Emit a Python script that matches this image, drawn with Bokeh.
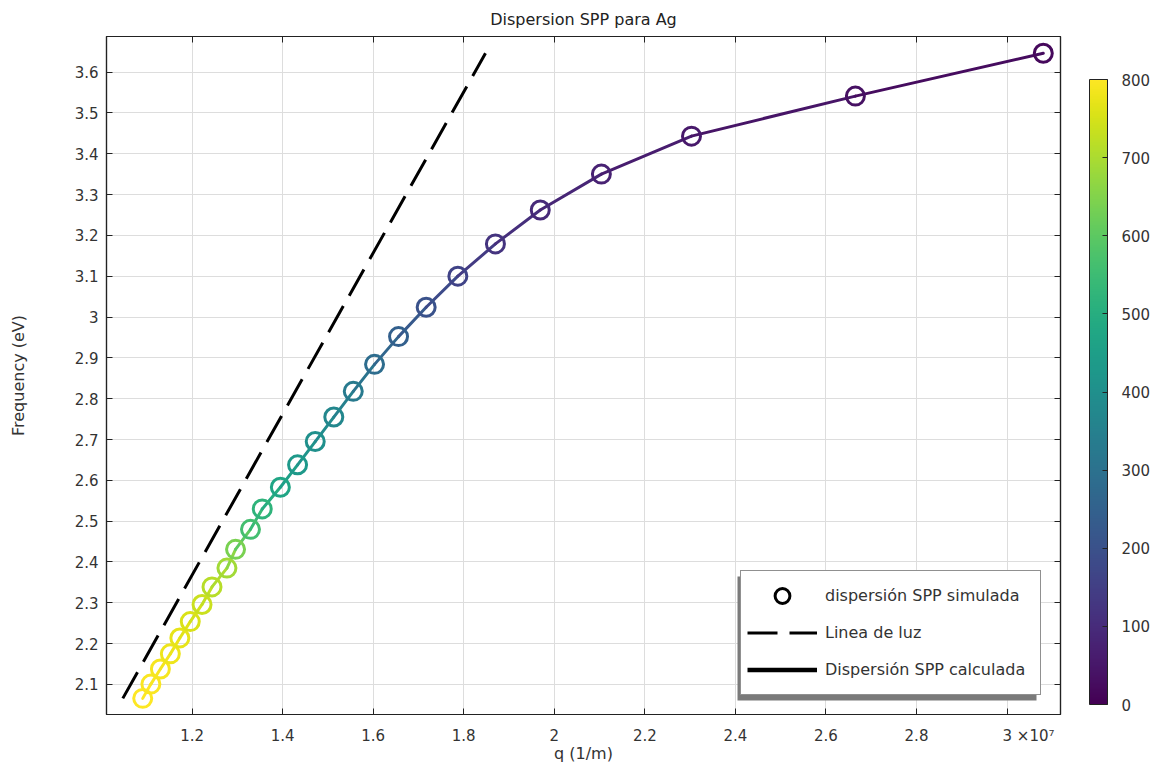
import math
from bokeh.plotting import figure
from bokeh.models import (Range1d, LinearAxis, FixedTicker, ColorBar, LinearColorMapper,
                          Legend, LegendItem, ColumnDataSource, BoxAnnotation,
                          CustomJSTickFormatter)
from bokeh.palettes import Viridis256
from bokeh.embed import file_html
from bokeh.resources import INLINE

# ---- data ----
q_sim = [1.091e7, 1.109e7, 1.130e7, 1.152e7, 1.173e7, 1.196e7, 1.222e7, 1.244e7, 1.277e7,
         1.296e7, 1.329e7, 1.355e7, 1.395e7, 1.433e7, 1.472e7, 1.513e7, 1.556e7, 1.603e7,
         1.656e7, 1.717e7, 1.787e7, 1.870e7, 1.969e7, 2.104e7, 2.303e7, 2.665e7, 3.080e7]
E_sim = [2.066, 2.101, 2.138, 2.175, 2.214, 2.254, 2.296, 2.339, 2.385,
         2.431, 2.480, 2.530, 2.583, 2.638, 2.695, 2.755, 2.818, 2.884,
         2.952, 3.024, 3.100, 3.179, 3.262, 3.350, 3.443, 3.541, 3.646]
c_sim = [800, 795, 790, 780, 770, 755, 735, 715, 690,
         640, 560, 520, 470, 430, 400, 370, 330, 285,
         245, 200, 160, 120, 95, 75, 55, 35, 20]

q_light = [1.047e7, 1.848e7]
E_light = [2.066, 3.646]

x_ticks = [1.2e7, 1.4e7, 1.6e7, 1.8e7, 2.0e7, 2.2e7, 2.4e7, 2.6e7, 2.8e7, 3.0e7]
x_tick_labels = ["1.2", "1.4", "1.6", "1.8", "2", "2.2", "2.4", "2.6", "2.8",
                 "\u00a0" * 9 + "3 \u00d710\u2077"]
y_ticks = [2.1, 2.2, 2.3, 2.4, 2.5, 2.6, 2.7, 2.8, 2.9, 3.0, 3.1, 3.2, 3.3, 3.4, 3.5, 3.6]
y_tick_labels = ["2.1", "2.2", "2.3", "2.4", "2.5", "2.6", "2.7", "2.8", "2.9", "3",
                 "3.1", "3.2", "3.3", "3.4", "3.5", "3.6"]
cbar_ticks = [0, 100, 200, 300, 400, 500, 600, 700, 800]
cbar_low, cbar_high = 0, 800

title = "Dispersion SPP para Ag"
x_label = "q (1/m)"
y_label = "Frequency (eV)"
legend_labels = ["dispersión SPP simulada", "Linea de luz", "Dispersión SPP calculada"]

FONT = "DejaVu Sans"
FS_TICK = "15px"
FS_AX = "16px"
FS_LEG = "16px"
FS_TITLE = "16px"
TXT = "#333333"

X0, X1 = 1.011e7, 3.118e7
Y0, Y1 = 2.0265, 3.687
FRAME_W, FRAME_H = 954, 678

p = figure(width=1172, height=767, output_backend="svg", toolbar_location=None,
           x_range=Range1d(X0, X1), y_range=Range1d(Y0, Y1),
           min_border_left=106, min_border_right=112, min_border_top=36, min_border_bottom=53,
           title=title)
p.background_fill_color = "white"
p.border_fill_color = "white"
p.outline_line_color = "#222222"
p.outline_line_width = 1.2

p.title.align = "center"
p.title.vertical_align = "top"
p.title.text_font = FONT
p.title.text_font_size = FS_TITLE
p.title.text_font_style = "normal"
p.title.text_color = "#222222"
p.title.standoff = 12

for g in (p.xgrid, p.ygrid):
    g.grid_line_color = "#dddddd"
    g.grid_line_width = 1
p.xgrid.ticker = FixedTicker(ticks=x_ticks)
p.ygrid.ticker = FixedTicker(ticks=y_ticks)

def style_axis(ax, ticks, labels=None):
    ax.ticker = FixedTicker(ticks=ticks)
    if labels is not None:
        ax.major_label_overrides = {t: l for t, l in zip(ticks, labels)}
        ax.major_label_text_font_size = FS_TICK
    else:
        ax.formatter = CustomJSTickFormatter(code="return ''")
        ax.major_label_standoff = 0
    ax.axis_line_color = "#222222"
    ax.axis_line_width = 1.2
    ax.major_tick_line_color = "#222222"
    ax.major_tick_in = 6
    ax.major_tick_out = 0
    ax.minor_tick_line_color = None
    ax.major_label_text_font = FONT
    ax.major_label_text_color = TXT

xa = p.xaxis[0]
style_axis(xa, x_ticks, x_tick_labels)
xa.major_label_standoff = 12
xa.axis_label = x_label
xa.axis_label_text_font = FONT
xa.axis_label_text_font_size = FS_AX
xa.axis_label_text_font_style = "normal"
xa.axis_label_text_color = TXT
xa.axis_label_standoff = -4

ya = p.yaxis[0]
style_axis(ya, y_ticks, y_tick_labels)
ya.major_label_standoff = 8
ya.axis_label = y_label
ya.axis_label_text_font = FONT
ya.axis_label_text_font_size = FS_AX
ya.axis_label_text_font_style = "normal"
ya.axis_label_text_color = TXT
ya.axis_label_standoff = 44

top_ax = LinearAxis()
style_axis(top_ax, x_ticks)
p.add_layout(top_ax, "above")
right_ax = LinearAxis()
style_axis(right_ax, y_ticks)
p.add_layout(right_ax, "right")

# ---- data glyphs ----
mapper = LinearColorMapper(palette=Viridis256, low=cbar_low, high=cbar_high)

seg = ColumnDataSource(dict(
    x0=q_sim[:-1], y0=E_sim[:-1], x1=q_sim[1:], y1=E_sim[1:],
    c=[(a + b) / 2 for a, b in zip(c_sim[:-1], c_sim[1:])]))
p.segment("x0", "y0", "x1", "y1", source=seg,
          line_color={"field": "c", "transform": mapper}, line_width=3, line_cap="round")

p.line(q_light, E_light, line_color="black", line_width=3, line_dash="30 12")

pts = ColumnDataSource(dict(x=q_sim, y=E_sim, c=c_sim))
p.scatter("x", "y", source=pts, marker="circle", size=18, fill_color=None,
          line_color={"field": "c", "transform": mapper}, line_width=3)

# ---- legend shadow (frame pixel offsets converted to data units) ----
def fx(px):
    return X0 + px / FRAME_W * (X1 - X0)

def fy(py_from_top):
    return Y1 - py_from_top / FRAME_H * (Y1 - Y0)

p.add_layout(BoxAnnotation(left=fx(631), right=fx(930), top=fy(540), bottom=fy(664),
                           fill_color="#7a7a7a", fill_alpha=1, line_color=None,
                           level="annotation"))

# ---- legend (proxy renderers) ----
nan = float("nan")
r1 = p.scatter([nan], [nan], marker="circle", size=18, fill_color=None,
               line_color="black", line_width=3)
r2 = p.line([nan], [nan], line_color="black", line_width=3, line_dash="30 12")
r3 = p.line([nan], [nan], line_color="black", line_width=4.5)
legend = Legend(items=[LegendItem(label=legend_labels[0], renderers=[r1]),
                       LegendItem(label=legend_labels[1], renderers=[r2]),
                       LegendItem(label=legend_labels[2], renderers=[r3])],
                location="bottom_right")
legend.margin = 19
legend.padding = 6
legend.glyph_width = 70
legend.glyph_height = 37
legend.spacing = 0
legend.label_standoff = 8
legend.label_width = 209
legend.label_text_font = FONT
legend.label_text_font_size = FS_LEG
legend.label_text_color = TXT
legend.border_line_color = "#222222"
legend.border_line_width = 1
legend.background_fill_color = "white"
legend.background_fill_alpha = 1
p.add_layout(legend, "center")

# ---- colour bar ----
cb = ColorBar(color_mapper=mapper, ticker=FixedTicker(ticks=cbar_ticks),
              width=18, height=625, location=(19, 0), padding=10,
              bar_line_color="#222222", major_tick_line_color="#222222",
              major_tick_in=5, major_tick_out=0, minor_tick_line_color=None,
              major_label_text_font=FONT, major_label_text_font_size=FS_TICK,
              major_label_text_color=TXT, label_standoff=14,
              background_fill_alpha=0, border_line_color=None)
p.add_layout(cb, "right")

open("out.html", "w").write(file_html(p, INLINE))
